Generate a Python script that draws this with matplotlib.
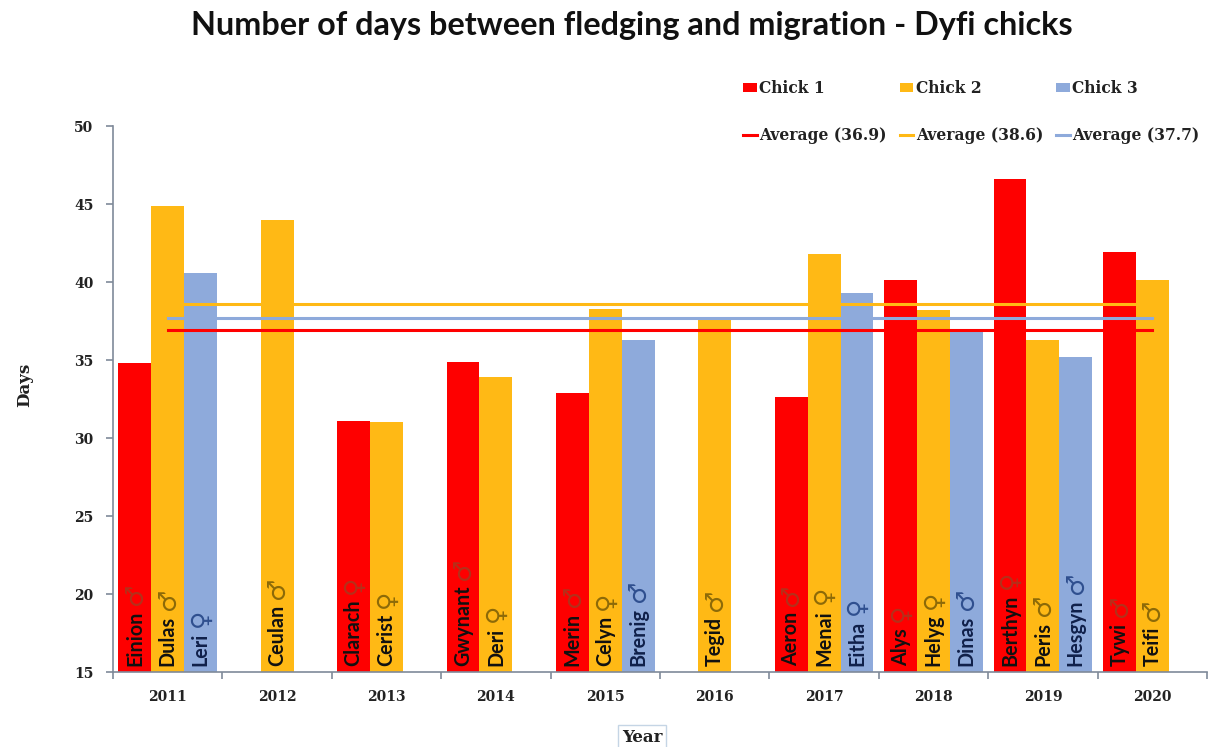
import numpy as np
import matplotlib.pyplot as plt

years = [2011, 2012, 2013, 2014, 2015, 2016, 2017, 2018, 2019, 2020]
nan = float('nan')
chick1 = [34.8, nan, 31.1, 34.9, 32.9, nan, 32.6, 40.1, 46.6, 41.9]
chick2 = [44.9, 44.0, 31.0, 33.9, 38.3, 37.7, 41.8, 38.2, 36.3, 40.1]
chick3 = [40.6, nan, nan, nan, 36.3, nan, 39.3, 36.9, 35.2, nan]

names1 = ['Einion', '', 'Clarach', 'Gwynant', 'Merin', '', 'Aeron', 'Alys', 'Berthyn', 'Tywi']
names2 = ['Dulas', 'Ceulan', 'Cerist', 'Deri', 'Celyn', 'Tegid', 'Menai', 'Helyg', 'Peris', 'Teifi']
names3 = ['Leri', '', '', '', 'Brenig', '', 'Eitha', 'Dinas', 'Hesgyn', '']

sex1 = ['m', '', 'f', 'm', 'm', '', 'm', 'f', 'f', 'm']
sex2 = ['m', 'm', 'f', 'f', 'f', 'm', 'f', 'f', 'm', 'm']
sex3 = ['f', '', '', '', 'm', '', 'f', 'm', 'm', '']

averages = [36.9, 38.6, 37.7]

RED = '#fe0000'
GOLD = '#ffb915'
BLUE = '#8eaadb'
SYMBOLS = {'m': '\u2642', 'f': '\u2640'}
SERIF = 'DejaVu Serif'
SANS = 'Lato'

fig = plt.figure(figsize=(12.09, 7.47), dpi=100)
ax = fig.add_axes([113 / 1209, 1 - 672 / 747, (1207 - 113) / 1209, (672 - 126) / 747])

x = np.arange(len(years))
width = 0.3
series = [
    (chick1, names1, sex1, RED, '#111111', '#b5301a', 'Chick 1', -width),
    (chick2, names2, sex2, GOLD, '#111111', '#8c6a08', 'Chick 2', 0),
    (chick3, names3, sex3, BLUE, '#10204a', '#2f4f8f', 'Chick 3', width),
]

handles = []
for (values, names, sexes, color, name_color, sym_color, label, offset), avg in zip(series, averages):
    bars = ax.bar(x + offset, values, width, color=color, label=label)
    line, = ax.plot([x[0], x[-1]], [avg, avg], color=color, lw=2.2, label=f'Average ({avg})')
    handles += [bars, line]

    # names sit at the foot of each bar with the sex symbol just above
    for xi, name, sex in zip(x + offset, names, sexes):
        if not name:
            continue
        t = ax.text(xi, 15.4, name, rotation=90, ha='center', va='bottom',
                    fontsize=14.2, fontweight='bold', family=SANS, color=name_color)
        ax.annotate(SYMBOLS[sex], xy=(0.5, 1), xycoords=t, xytext=(0, 4),
                    textcoords='offset points', rotation=90, ha='center', va='bottom',
                    fontsize=18, family='DejaVu Sans', color=sym_color)

ax.set_xlim(-0.5, len(years) - 0.5)
ax.set_ylim(15, 50)
ax.set_yticks(range(15, 51, 5))
ax.set_xticks(np.arange(len(years) + 1) - 0.5)
ax.set_xticklabels([])
ax.set_xticks(x, [str(y) for y in years], minor=True)
ax.tick_params(axis='x', which='minor', length=0, pad=13)
ax.tick_params(axis='y', which='major', pad=9)
ax.tick_params(axis='both', which='major', length=5, color='#7f8a99', width=1.2)

for lab in ax.get_xticklabels(minor=True) + ax.get_yticklabels():
    lab.set_fontfamily(SERIF)
    lab.set_fontweight('bold')
    lab.set_fontsize(10)
    lab.set_color('#222222')

for side in ['top', 'right']:
    ax.spines[side].set_visible(False)
for side in ['left', 'bottom']:
    ax.spines[side].set_color('#7f8a99')
    ax.spines[side].set_linewidth(1.2)

fig.text(632 / 1209, 1 - 26 / 747, 'Number of days between fledging and migration - Dyfi chicks',
         ha='center', va='center', fontsize=23.3, fontweight='bold', family=SANS, color='#111111')
fig.text(25 / 1209, 1 - 385 / 747, 'Days', rotation=90, ha='center', va='center',
         fontsize=12, fontweight='bold', family=SERIF, color='#222222')
fig.text(642 / 1209, 1 - 737 / 747, 'Year', ha='center', va='center',
         fontsize=12, fontweight='bold', family=SERIF, color='#222222',
         bbox=dict(facecolor='white', edgecolor='#c5d5e5', lw=1, pad=2.5))

leg = ax.legend(handles=handles, ncol=3, loc='upper left', bbox_to_anchor=(743 / 1209, 1 - 80 / 747),
                bbox_transform=fig.transFigure, frameon=False, handlelength=0.88, handleheight=0.6,
                handletextpad=0.15, columnspacing=0.85, labelspacing=1.95, borderpad=0, borderaxespad=0,
                prop={'family': SERIF, 'weight': 'bold', 'size': 11.2})
for txt in leg.get_texts():
    txt.set_color('#222222')

fig.savefig('out.png', dpi=100)
